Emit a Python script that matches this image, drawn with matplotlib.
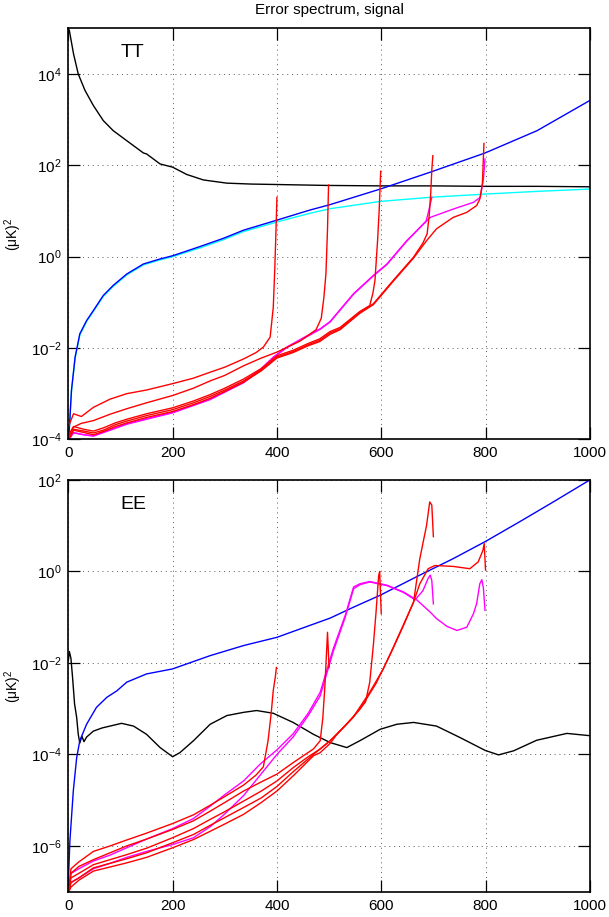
import matplotlib
matplotlib.use('Agg')
import matplotlib.pyplot as plt
from matplotlib.ticker import FixedLocator, NullLocator, FuncFormatter
import numpy as np

plt.rcParams['font.family'] = ['Liberation Sans', 'DejaVu Sans']
plt.rcParams['mathtext.default'] = 'regular'

# values, y stored as log10
# ---------- TT ----------
tt_black_x = [0, 2, 10, 19, 32, 48, 67, 86, 112, 144, 150, 176, 200, 227, 259, 304, 350, 400, 495, 600, 700, 800, 900, 1000]
tt_black_ly = [5.0, 4.95, 4.44, 4.0, 3.64, 3.31, 2.98, 2.76, 2.54, 2.27, 2.25, 2.03, 1.96, 1.80, 1.68, 1.61, 1.59, 1.58, 1.56, 1.55, 1.55, 1.54, 1.54, 1.53]

tt_blue_x = [1, 6, 13, 22, 35, 48, 67, 86, 112, 144, 176, 200, 252, 297, 336, 400, 463, 502, 598, 694, 799, 899, 1000]
tt_blue_ly = [-3.95, -2.93, -2.20, -1.69, -1.40, -1.18, -0.85, -0.63, -0.38, -0.16, -0.05, 0.02, 0.22, 0.40, 0.58, 0.80, 1.02, 1.14, 1.48, 1.85, 2.27, 2.76, 3.42]

tt_cyan_x = [1, 6, 13, 22, 35, 48, 67, 86, 112, 144, 176, 200, 252, 297, 336, 400, 463, 502, 598, 694, 799, 899, 1000]
tt_cyan_ly = [-3.95, -2.95, -2.22, -1.72, -1.42, -1.20, -0.87, -0.65, -0.40, -0.18, -0.07, 0.0, 0.19, 0.37, 0.55, 0.76, 0.95, 1.05, 1.21, 1.30, 1.37, 1.43, 1.48]

tt_r400_x = [1, 10, 25, 48, 80, 112, 150, 200, 240, 272, 300, 336, 360, 374, 387, 393, 396, 398, 400]
tt_r400_ly = [-3.7, -3.44, -3.5, -3.30, -3.12, -3.00, -2.92, -2.78, -2.66, -2.53, -2.42, -2.24, -2.10, -1.98, -1.76, -1.11, -0.23, 0.5, 1.30]

tt_r500_x = [1, 10, 25, 48, 80, 112, 150, 200, 240, 272, 300, 336, 370, 400, 444, 475, 485, 490, 494, 497, 499]
tt_r500_ly = [-3.9, -3.73, -3.65, -3.59, -3.45, -3.33, -3.20, -3.04, -2.88, -2.72, -2.60, -2.39, -2.22, -2.09, -1.85, -1.60, -1.35, -0.9, -0.37, 0.6, 1.57]

tt_r600_x = [1, 10, 30, 48, 67, 90, 112, 150, 200, 240, 272, 300, 336, 370, 400, 431, 460, 482, 502, 521, 559, 578, 584, 588, 593, 596, 599]
tt_r600_ly = [-3.9, -3.72, -3.78, -3.82, -3.75, -3.64, -3.56, -3.44, -3.31, -3.16, -3.02, -2.88, -2.68, -2.45, -2.17, -2.05, -1.9, -1.8, -1.64, -1.55, -1.2, -1.07, -0.8, -0.52, 0.35, 1.0, 1.87]

tt_r700_x = [1, 10, 30, 48, 67, 90, 112, 150, 200, 240, 272, 300, 336, 370, 400, 431, 460, 482, 502, 521, 559, 585, 623, 662, 680, 688, 692, 695, 697, 699]
tt_r700_ly = [-3.95, -3.78, -3.82, -3.86, -3.8, -3.68, -3.6, -3.48, -3.35, -3.2, -3.06, -2.92, -2.72, -2.48, -2.2, -2.08, -1.93, -1.83, -1.67, -1.58, -1.22, -1.03, -0.52, -0.01, 0.3, 0.5, 0.9, 1.4, 1.9, 2.21]

tt_r800_x = [1, 10, 30, 48, 67, 90, 112, 150, 200, 240, 272, 300, 336, 370, 400, 431, 460, 482, 502, 521, 559, 585, 623, 662, 687, 706, 738, 764, 783, 789, 794, 797]
tt_r800_ly = [-4.0, -3.8, -3.85, -3.9, -3.83, -3.72, -3.64, -3.52, -3.39, -3.24, -3.10, -2.95, -2.75, -2.50, -2.22, -2.10, -1.95, -1.86, -1.70, -1.60, -1.24, -1.05, -0.54, -0.03, 0.35, 0.61, 0.86, 0.97, 1.12, 1.26, 1.6, 2.48]

tt_m700_x = [1, 10, 30, 48, 90, 112, 150, 200, 272, 336, 370, 393, 419, 450, 483, 502, 547, 585, 611, 649, 686, 690, 694, 697]
tt_m700_ly = [-4.0, -3.86, -3.9, -3.93, -3.76, -3.67, -3.56, -3.42, -3.13, -2.76, -2.46, -2.21, -1.99, -1.8, -1.59, -1.43, -0.82, -0.42, -0.17, 0.34, 0.78, 0.95, 1.15, 1.30]

tt_m800_x = [1, 10, 30, 48, 90, 112, 150, 200, 272, 336, 370, 393, 419, 450, 483, 502, 547, 585, 611, 649, 694, 740, 777, 790, 796, 799]
tt_m800_ly = [-4.0, -3.85, -3.9, -3.92, -3.75, -3.66, -3.55, -3.41, -3.12, -2.75, -2.45, -2.20, -1.98, -1.78, -1.58, -1.42, -0.81, -0.41, -0.16, 0.35, 0.86, 1.05, 1.19, 1.30, 1.70, 2.14]

# ---------- EE ----------
ee_black_x = [0, 2, 5, 8, 12, 16, 19, 22, 26, 30, 35, 48, 65, 80, 102, 125, 150, 176, 200, 214, 240, 272, 304, 336, 361, 393, 431, 470, 502, 534, 559, 598, 630, 662, 706, 751, 799, 825, 854, 898, 956, 1000]
ee_black_ly = [-1.95, -1.75, -1.9, -2.3, -2.9, -3.19, -3.56, -3.75, -3.6, -3.72, -3.62, -3.49, -3.42, -3.38, -3.32, -3.38, -3.56, -3.85, -4.05, -3.96, -3.70, -3.34, -3.15, -3.08, -3.04, -3.10, -3.30, -3.56, -3.74, -3.85, -3.70, -3.45, -3.34, -3.30, -3.38, -3.63, -3.91, -4.01, -3.92, -3.69, -3.54, -3.59]

ee_blue_x = [0, 3, 9.6, 16, 22, 35, 54, 74, 93, 112, 150, 200, 272, 336, 400, 463, 502, 547, 598, 674, 738, 799, 866, 930, 1000]
ee_blue_ly = [-6.8, -5.89, -4.79, -4.07, -3.70, -3.34, -2.97, -2.75, -2.61, -2.42, -2.24, -2.13, -1.84, -1.62, -1.44, -1.18, -1.02, -0.78, -0.52, -0.08, 0.28, 0.65, 1.09, 1.52, 2.0]

ee_r400_x = [1, 5, 20, 48, 80, 112, 150, 200, 240, 272, 300, 336, 360, 374, 383, 389, 393, 397, 399]
ee_r400_ly = [-7.0, -6.5, -6.35, -6.12, -6.0, -5.87, -5.72, -5.51, -5.32, -5.11, -4.92, -4.67, -4.45, -4.27, -3.7, -3.1, -2.6, -2.3, -2.1]

ee_r500_x = [1, 5, 20, 48, 80, 112, 150, 200, 240, 272, 300, 336, 370, 400, 431, 470, 483, 488, 492, 495, 497, 500]
ee_r500_ly = [-7.0, -6.6, -6.45, -6.3, -6.15, -6.0, -5.85, -5.64, -5.45, -5.24, -5.05, -4.8, -4.6, -4.43, -4.18, -3.88, -3.70, -3.2, -2.5, -1.8, -1.33, -2.1]

ee_r600_x = [1, 5, 20, 48, 80, 112, 150, 200, 240, 272, 300, 336, 370, 400, 431, 460, 483, 502, 515, 546, 570, 578, 585, 590, 595, 597, 600]
ee_r600_ly = [-7.0, -6.7, -6.6, -6.41, -6.3, -6.19, -6.05, -5.82, -5.62, -5.42, -5.25, -5.02, -4.8, -4.58, -4.29, -4.05, -3.88, -3.70, -3.56, -3.19, -2.85, -2.42, -1.6, -0.9, -0.1, 0.0, -0.92]

ee_r700_x = [1, 5, 20, 48, 80, 112, 150, 200, 240, 272, 300, 336, 370, 400, 431, 470, 502, 530, 560, 590, 620, 642, 662, 674, 687, 693, 697, 700]
ee_r700_ly = [-7.0, -6.8, -6.7, -6.48, -6.38, -6.28, -6.15, -5.93, -5.75, -5.55, -5.38, -5.16, -4.95, -4.7, -4.38, -4.0, -3.70, -3.38, -3.0, -2.45, -1.75, -1.2, -0.67, 0.28, 1.01, 1.52, 1.45, 0.76]

ee_r800_x = [1, 5, 20, 48, 80, 112, 150, 200, 240, 272, 300, 336, 370, 400, 431, 470, 483, 502, 515, 546, 578, 604, 623, 642, 662, 674, 690, 703, 738, 770, 786, 795, 797.5, 800]
ee_r800_ly = [-7.0, -6.9, -6.75, -6.55, -6.46, -6.37, -6.25, -6.04, -5.86, -5.68, -5.52, -5.31, -5.05, -4.80, -4.47, -4.03, -3.96, -3.76, -3.56, -3.19, -2.64, -2.13, -1.66, -1.18, -0.67, -0.27, 0.06, 0.13, 0.11, 0.06, 0.21, 0.46, 0.61, 0.03]

ee_m700_x = [1, 5, 20, 48, 80, 112, 150, 200, 240, 272, 300, 336, 368, 400, 431, 460, 483, 508, 531, 547, 559, 578, 611, 643, 665, 680, 690, 694, 697, 700]
ee_m700_ly = [-7.0, -6.8, -6.7, -6.5, -6.38, -6.25, -6.12, -5.97, -5.82, -5.58, -5.3, -4.9, -4.45, -4.0, -3.62, -3.15, -2.72, -1.75, -1.0, -0.38, -0.29, -0.23, -0.31, -0.46, -0.62, -0.42, -0.15, -0.08, -0.2, -0.71]

ee_m800_x = [1, 5, 20, 48, 80, 112, 150, 200, 240, 272, 300, 336, 368, 400, 431, 460, 483, 508, 531, 547, 559, 578, 611, 643, 669, 694, 706, 726, 745, 764, 777, 783, 789, 793, 796, 799]
ee_m800_ly = [-7.0, -6.6, -6.5, -6.33, -6.2, -6.04, -5.85, -5.62, -5.4, -5.13, -4.88, -4.58, -4.21, -3.9, -3.55, -3.1, -2.64, -1.69, -0.96, -0.34, -0.27, -0.22, -0.30, -0.45, -0.63, -0.89, -1.03, -1.2, -1.29, -1.22, -0.92, -0.7, -0.27, -0.18, -0.37, -0.85]

x_ticks = [0, 200, 400, 600, 800, 1000]
tt_yticks = [-4, -2, 0, 2, 4]
ee_yticks = [-6, -4, -2, 0, 2]

# matlab-style pure colours
BLACK, BLUE, CYAN, RED, MAGENTA = '#000000', '#0000ff', '#00ffff', '#ff0000', '#ff00ff'
LW = 1.0


def style_axes(ax, ylim, yticks, label):
    ax.set_yscale('log')
    ax.set_xlim(0, 1000)
    ax.set_ylim(*ylim)
    ax.xaxis.set_major_locator(FixedLocator(x_ticks))
    ax.yaxis.set_major_locator(FixedLocator([10.0 ** e for e in yticks]))
    ax.yaxis.set_major_formatter(FuncFormatter(lambda v, p: r'$10^{%d}$' % round(np.log10(v))))
    ax.yaxis.set_minor_locator(NullLocator())
    ax.tick_params(direction='in', length=8.5, width=0.9, top=True, right=True,
                   labelsize=11, pad=5)
    ax.grid(True, linestyle=(0, (1, 4)), color='0.35', linewidth=0.7)
    for s in ax.spines.values():
        s.set_linewidth(1.2)
    ax.set_ylabel('(μK)$^2$', fontsize=10)
    ax.yaxis.set_label_coords(-0.085, 0.5)
    ax.text(0.124, 0.94, label, transform=ax.transAxes, fontsize=14,
            ha='center', va='center')


def line(ax, x, ly, c):
    ax.plot(x, 10.0 ** np.array(ly), color=c, linewidth=LW)


fig = plt.figure(figsize=(6.09, 9.17), dpi=100)
ax1 = fig.add_axes([0.1122, 0.5209, 0.8563, 0.4482])
ax2 = fig.add_axes([0.1122, 0.0276, 0.8563, 0.4490])

line(ax1, tt_black_x, tt_black_ly, BLACK)
line(ax1, tt_cyan_x, tt_cyan_ly, CYAN)
line(ax1, tt_blue_x, tt_blue_ly, BLUE)
line(ax1, tt_m800_x, tt_m800_ly, MAGENTA)
line(ax1, tt_m700_x, tt_m700_ly, MAGENTA)
for x, ly in [(tt_r400_x, tt_r400_ly), (tt_r500_x, tt_r500_ly), (tt_r600_x, tt_r600_ly),
              (tt_r700_x, tt_r700_ly), (tt_r800_x, tt_r800_ly)]:
    line(ax1, x, ly, RED)
style_axes(ax1, (1e-4, 1e5), tt_yticks, 'TT')

line(ax2, ee_black_x, ee_black_ly, BLACK)
line(ax2, ee_blue_x, ee_blue_ly, BLUE)
line(ax2, ee_m800_x, ee_m800_ly, MAGENTA)
line(ax2, ee_m700_x, ee_m700_ly, MAGENTA)
for x, ly in [(ee_r400_x, ee_r400_ly), (ee_r500_x, ee_r500_ly), (ee_r600_x, ee_r600_ly),
              (ee_r700_x, ee_r700_ly), (ee_r800_x, ee_r800_ly)]:
    line(ax2, x, ly, RED)
style_axes(ax2, (1e-7, 1e2), ee_yticks, 'EE')

fig.text(0.541, 0.989, 'Error spectrum, signal', ha='center', va='center', fontsize=11)

fig.savefig('out.png', dpi=100)
